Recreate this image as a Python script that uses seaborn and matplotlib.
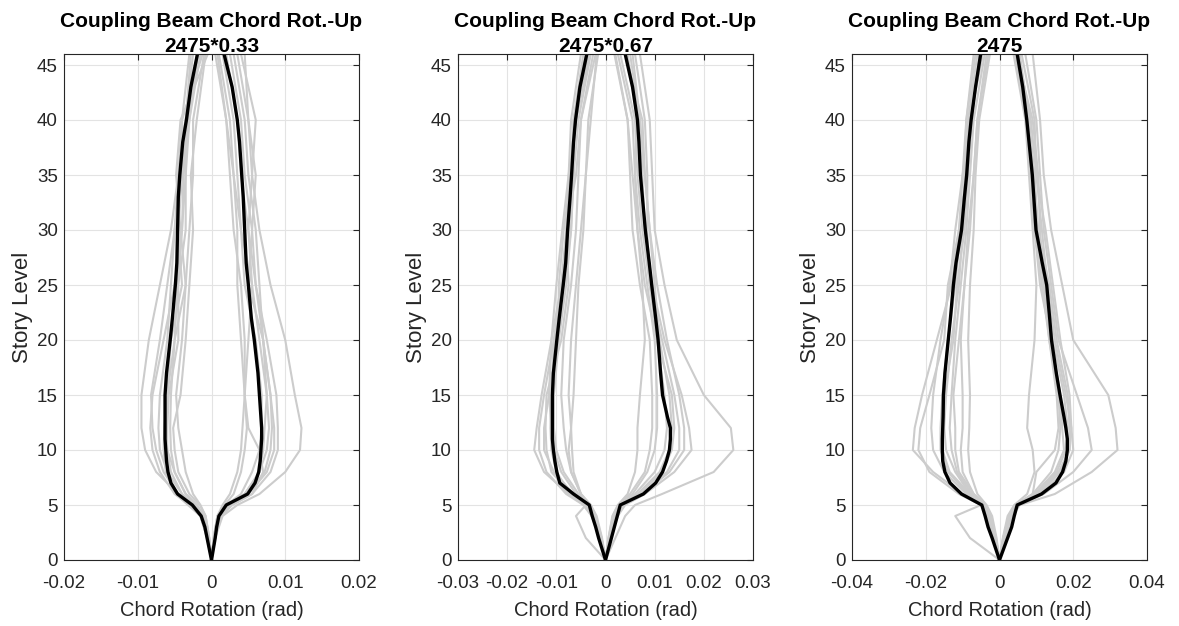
import numpy as np
import pandas as pd
import matplotlib
matplotlib.use("Agg")
import matplotlib.pyplot as plt
import seaborn as sns

# ---------------- data (milli-radians) ----------------
titles = ["Coupling Beam Chord Rot.-Up\n2475*0.33",
          "Coupling Beam Chord Rot.-Up\n2475*0.67",
          "Coupling Beam Chord Rot.-Up\n2475"]
xlims = [0.02, 0.03, 0.04]
xticks = [[-0.02, -0.01, 0, 0.01, 0.02],
          [-0.03, -0.02, -0.01, 0, 0.01, 0.02, 0.03],
          [-0.04, -0.02, 0, 0.02, 0.04]]
xticklabels = [["-0.02", "-0.01", "0", "0.01", "0.02"],
               ["-0.03", "-0.02", "-0.01", "0", "0.01", "0.02", "0.03"],
               ["-0.04", "-0.02", "0", "0.02", "0.04"]]

# story levels of the individual records
levels = [0, 2, 4, 5, 6, 8, 10, 12, 15, 20, 25, 30, 35, 40, 46]
# story levels of the mean curves
mean_levels = [0, 1, 2, 3, 4, 5, 6, 7, 8, 9, 10, 11, 12, 13, 15, 17, 20, 22,
               25, 27, 30, 33, 35, 38, 40, 43, 46]

# Panel 1 (2475*0.33)
p1_neg = [
    [0, -0.5, -1.2, -2.5, -4.5, -7.5, -9.0, -9.5, -9.5, -8.5, -7.0, -5.5, -4.5, -4.0, -3.0],
    [0, -0.6, -1.5, -3.0, -5.0, -7.0, -8.0, -8.3, -8.0, -6.5, -5.0, -4.0, -3.5, -3.0, -2.0],
    [0, -0.5, -1.0, -2.2, -4.0, -6.0, -7.0, -7.2, -7.0, -6.0, -5.5, -5.0, -4.5, -3.5, -2.5],
    [0, -0.6, -1.5, -3.2, -4.8, -6.2, -6.5, -6.4, -6.0, -5.5, -4.0, -4.5, -4.0, -3.2, -1.8],
    [0, -0.4, -1.0, -2.0, -3.5, -5.0, -5.5, -5.6, -5.5, -5.0, -4.6, -4.0, -3.8, -3.0, -1.5],
    [0, -0.5, -1.2, -2.5, -4.0, -5.5, -6.0, -6.0, -5.8, -4.5, -4.5, -3.5, -3.5, -4.0, -1.2],
    [0, -0.3, -0.8, -1.5, -2.5, -3.5, -4.0, -4.5, -4.8, -4.0, -3.5, -3.0, -2.5, -2.5, -1.0],
    [0, -0.4, -1.0, -2.0, -3.5, -5.0, -6.0, -6.2, -6.0, -5.0, -3.5, -4.2, -4.8, -4.2, -0.5],
    [0, -0.5, -1.3, -2.8, -4.5, -6.5, -7.5, -8.0, -8.2, -7.0, -6.0, -5.0, -4.0, -3.5, -2.8],
    [0, -0.3, -0.8, -1.6, -3.0, -4.5, -5.0, -5.2, -4.2, -3.5, -3.0, -2.5, -2.8, -2.0, -0.8],
]
p1_pos = [
    [0, 0.5, 1.5, 3.5, 6.5, 10.0, 12.0, 12.2, 11.3, 10.0, 8.0, 6.5, 5.5, 5.0, 4.5],
    [0, 0.5, 1.2, 2.8, 5.5, 8.0, 9.0, 9.0, 8.8, 7.5, 6.0, 5.0, 5.5, 6.0, 4.0],
    [0, 0.4, 1.0, 2.5, 5.0, 7.5, 8.5, 8.5, 8.0, 7.0, 6.5, 6.0, 5.0, 4.5, 3.0],
    [0, 0.4, 1.0, 2.2, 4.5, 6.5, 7.5, 7.8, 7.5, 6.5, 5.5, 5.0, 4.0, 3.5, 2.0],
    [0, 0.3, 0.8, 2.0, 4.0, 5.5, 6.5, 6.8, 6.8, 6.0, 4.5, 4.0, 3.5, 3.0, 1.5],
    [0, 0.3, 0.8, 1.8, 3.0, 4.0, 4.5, 4.8, 4.5, 4.0, 3.5, 3.5, 3.0, 2.5, 1.0],
    [0, 0.5, 1.2, 2.8, 5.5, 7.0, 6.5, 5.0, 4.5, 5.0, 5.5, 4.0, 3.0, 2.0, 0.5],
    [0, 0.4, 1.0, 2.3, 4.5, 6.5, 7.0, 7.2, 7.5, 7.0, 6.0, 5.5, 6.0, 5.0, 3.5],
    [0, 0.3, 0.8, 1.5, 2.5, 3.5, 4.0, 4.2, 4.5, 4.5, 4.0, 3.0, 2.5, 2.0, 0.8],
    [0, 0.4, 1.1, 2.5, 5.0, 7.2, 8.0, 8.2, 8.0, 7.0, 5.0, 5.5, 4.5, 4.0, 2.5],
]
p1_mean_neg = [0, -0.3, -0.6, -0.9, -1.4, -2.6, -4.6, -5.5, -5.9, -6.1, -6.2, -6.3, -6.3, -6.3,
               -6.3, -6.1, -5.6, -5.3, -4.9, -4.7, -4.6, -4.5, -4.3, -3.9, -3.4, -2.8, -1.9]
p1_mean_pos = [0, 0.25, 0.5, 0.7, 1.0, 2.0, 4.9, 5.9, 6.4, 6.6, 6.7, 6.8, 6.8, 6.7,
               6.5, 6.3, 5.8, 5.4, 5.0, 4.7, 4.5, 4.3, 4.1, 3.8, 3.5, 2.8, 1.7]

# Panel 2 (2475*0.67)
p2_neg = [
    [0, -1.0, -2.5, -4.0, -7.5, -12.5, -14.5, -14.0, -13.0, -11.0, -9.0, -8.0, -7.5, -7.0, -5.0],
    [0, -1.0, -2.8, -4.5, -8.0, -12.0, -13.5, -13.5, -12.5, -10.5, -8.5, -7.0, -6.5, -6.5, -4.0],
    [0, -0.8, -2.2, -3.5, -6.5, -10.5, -12.5, -12.5, -11.5, -9.5, -9.5, -8.5, -7.0, -6.0, -3.5],
    [0, -1.2, -2.8, -4.5, -7.0, -10.0, -11.0, -11.2, -11.0, -10.5, -9.0, -7.5, -7.0, -6.5, -4.5],
    [0, -0.8, -2.0, -3.2, -5.5, -8.5, -10.0, -10.5, -10.5, -9.5, -8.0, -7.0, -6.5, -5.5, -3.0],
    [0, -4.0, -6.0, -4.0, -5.0, -7.0, -8.0, -8.5, -9.0, -8.5, -7.0, -6.0, -5.5, -5.0, -2.5],
    [0, -0.7, -1.8, -3.0, -5.0, -7.0, -7.5, -7.0, -6.5, -6.0, -5.5, -4.5, -4.0, -3.5, -1.5],
    [0, -1.0, -2.5, -4.0, -7.0, -11.0, -12.0, -12.2, -12.0, -9.0, -7.5, -8.0, -6.0, -5.0, -2.0],
    [0, -0.9, -2.3, -3.6, -6.0, -9.0, -10.5, -11.0, -11.5, -11.0, -10.0, -8.8, -7.5, -6.0, -3.2],
    [0, -0.8, -2.0, -3.0, -5.0, -6.5, -6.8, -7.0, -7.5, -7.0, -6.0, -5.0, -4.0, -3.0, -1.8],
]
p2_pos = [
    [0, 2.0, 4.0, 6.0, 11.5, 22.0, 26.0, 25.5, 20.0, 14.5, 12.0, 10.0, 9.5, 9.0, 7.0],
    [0, 1.0, 2.5, 4.0, 8.0, 14.0, 17.5, 17.0, 15.5, 12.0, 9.5, 8.0, 7.5, 7.0, 5.0],
    [0, 1.0, 2.2, 3.5, 7.5, 12.5, 15.0, 15.0, 14.0, 11.5, 9.0, 8.5, 8.5, 8.0, 6.0],
    [0, 0.9, 2.0, 3.2, 6.5, 11.0, 13.0, 13.5, 13.0, 11.0, 10.0, 9.0, 8.0, 7.5, 4.0],
    [0, 0.8, 1.8, 3.0, 6.0, 10.0, 12.0, 12.5, 12.0, 10.5, 9.0, 7.5, 6.5, 6.0, 3.0],
    [0, 0.7, 1.6, 2.8, 5.5, 8.5, 10.0, 10.5, 10.5, 10.0, 8.5, 7.0, 6.0, 5.5, 2.5],
    [0, 0.6, 1.4, 2.5, 4.5, 6.0, 6.5, 6.5, 7.0, 8.0, 7.5, 6.5, 5.5, 4.5, 1.8],
    [0, 0.8, 2.0, 3.3, 7.0, 11.5, 13.5, 14.0, 13.5, 10.5, 8.0, 6.5, 6.0, 6.5, 4.5],
    [0, 0.9, 2.2, 3.6, 7.5, 13.0, 16.0, 16.0, 15.0, 12.5, 10.5, 9.0, 8.0, 7.0, 5.5],
    [0, 0.6, 1.5, 2.6, 5.0, 8.0, 9.0, 9.5, 9.5, 9.0, 7.0, 5.5, 5.0, 4.5, 2.0],
]
p2_mean_neg = [0, -0.7, -1.4, -2.0, -2.7, -3.3, -6.5, -9.3, -9.9, -10.3, -10.6, -10.8, -10.8, -10.8,
               -10.8, -10.6, -9.9, -9.4, -8.6, -8.1, -7.7, -7.2, -6.9, -6.5, -6.1, -5.2, -3.8]
p2_mean_pos = [0, 0.6, 1.2, 1.8, 2.4, 3.0, 7.7, 10.2, 11.6, 12.4, 13.0, 13.2, 13.2, 12.6,
               11.6, 11.2, 10.7, 10.2, 9.4, 8.9, 8.1, 7.5, 7.1, 6.8, 6.5, 5.5, 4.0]

# Panel 3 (2475)
p3_neg = [
    [0, -1.5, -3.5, -5.0, -10.0, -18.0, -23.5, -23.0, -21.0, -17.0, -13.0, -11.0, -10.0, -9.0, -7.0],
    [0, -1.5, -3.3, -5.0, -11.0, -19.0, -22.0, -21.5, -19.0, -15.0, -14.0, -11.0, -9.0, -8.5, -6.0],
    [0, -1.3, -3.0, -4.8, -9.0, -15.0, -18.0, -18.5, -18.0, -16.0, -13.5, -12.0, -10.0, -8.0, -5.0],
    [0, -1.2, -3.0, -4.5, -8.5, -14.0, -16.0, -16.0, -15.5, -14.0, -12.0, -10.5, -9.0, -8.0, -4.5],
    [0, -8.0, -12.0, -5.0, -8.0, -12.0, -14.5, -15.0, -14.5, -13.0, -11.0, -10.0, -9.5, -9.0, -6.5],
    [0, -1.0, -2.6, -4.0, -7.5, -11.5, -13.0, -13.5, -13.0, -12.0, -10.5, -9.0, -8.0, -7.0, -4.0],
    [0, -1.0, -2.4, -3.8, -7.0, -10.0, -10.5, -10.0, -10.0, -10.5, -9.5, -8.5, -7.0, -6.0, -3.5],
    [0, -0.8, -2.0, -3.5, -6.0, -8.0, -8.5, -8.2, -8.0, -8.5, -8.0, -7.0, -6.5, -5.5, -2.6],
    [0, -1.2, -2.8, -4.3, -8.0, -13.5, -15.5, -15.5, -15.0, -12.5, -11.5, -9.5, -8.5, -7.5, -5.5],
    [0, -1.0, -2.5, -4.0, -7.0, -11.0, -12.0, -12.0, -12.5, -11.0, -9.5, -8.0, -7.0, -6.0, -3.0],
]
p3_pos = [
    [0, 1.5, 3.5, 5.5, 15.0, 25.0, 32.0, 31.5, 29.5, 20.0, 17.0, 14.0, 12.0, 11.0, 9.0],
    [0, 1.5, 3.5, 5.0, 12.0, 20.0, 25.0, 24.0, 21.0, 16.0, 14.0, 12.0, 11.0, 10.0, 7.0],
    [0, 1.4, 3.2, 5.0, 11.0, 17.5, 20.0, 19.5, 18.0, 15.0, 13.0, 11.5, 10.0, 9.5, 6.0],
    [0, 1.3, 3.0, 4.8, 10.5, 16.5, 19.0, 19.0, 18.5, 15.5, 13.5, 10.5, 9.5, 8.0, 5.5],
    [0, 1.2, 2.8, 4.5, 10.0, 15.5, 18.0, 18.5, 17.5, 14.5, 12.0, 11.0, 10.5, 9.0, 4.5],
    [0, 1.0, 2.5, 4.2, 9.0, 10.0, 15.0, 16.0, 15.5, 13.5, 11.5, 9.5, 9.0, 7.5, 4.0],
    [0, 0.9, 2.2, 4.0, 7.5, 9.5, 9.0, 7.5, 8.0, 9.5, 10.0, 9.0, 8.0, 7.0, 3.8],
    [0, 1.2, 2.9, 4.6, 10.0, 16.0, 19.0, 19.5, 19.0, 16.5, 14.5, 12.5, 10.0, 8.5, 5.0],
    [0, 1.0, 2.6, 4.3, 9.0, 14.0, 16.0, 16.5, 16.0, 13.5, 12.0, 10.0, 9.0, 8.0, 5.0],
    [0, 1.1, 2.7, 4.4, 9.5, 15.0, 17.5, 17.0, 16.5, 14.0, 11.0, 9.5, 8.5, 7.5, 4.5],
]
p3_mean_neg = [0, -1.0, -2.0, -3.1, -3.9, -4.8, -10.3, -13.4, -14.8, -15.4, -15.5, -15.5, -15.4, -15.3,
               -15.2, -14.8, -13.9, -13.3, -12.5, -11.8, -10.3, -9.5, -8.9, -8.3, -7.7, -6.5, -5.1]
p3_mean_pos = [0, 1.1, 2.2, 3.3, 4.0, 4.8, 11.4, 15.3, 17.1, 18.0, 18.4, 18.4, 18.0, 17.5,
               16.4, 15.4, 14.1, 13.6, 12.8, 11.6, 9.9, 9.3, 8.9, 8.0, 7.4, 6.3, 4.8]

panels = [
    (p1_neg, p1_pos, p1_mean_neg, p1_mean_pos),
    (p2_neg, p2_pos, p2_mean_neg, p2_mean_pos),
    (p3_neg, p3_pos, p3_mean_neg, p3_mean_pos),
]

# ---------------- plotting ----------------
sns.set_theme(style="white")
plt.rcParams["font.family"] = ["Liberation Sans", "DejaVu Sans"]
dark = "#262626"

fig = plt.figure(figsize=(11.79, 6.26), dpi=100)
lefts = [64 / 1179, 458 / 1179, 852 / 1179]
bottom = 1 - 560 / 626
width = 295 / 1179
height = 506 / 626

for i, (negs, poss, mneg, mpos) in enumerate(panels):
    ax = fig.add_axes([lefts[i], bottom, width, height])
    rows = []
    for k, rec in enumerate(negs):
        for s, v in zip(levels, rec):
            rows.append(("n%d" % k, s, v / 1000.0))
    for k, rec in enumerate(poss):
        for s, v in zip(levels, rec):
            rows.append(("p%d" % k, s, v / 1000.0))
    df = pd.DataFrame(rows, columns=["rec", "story", "rot"])
    sns.lineplot(data=df, x="rot", y="story", units="rec", estimator=None,
                 sort=False, color="#cccccc", lw=1.5, ax=ax, legend=False)
    mrows = []
    for s, v in zip(mean_levels, mneg):
        mrows.append(("mn", s, v / 1000.0))
    for s, v in zip(mean_levels, mpos):
        mrows.append(("mp", s, v / 1000.0))
    mdf = pd.DataFrame(mrows, columns=["rec", "story", "rot"])
    sns.lineplot(data=mdf, x="rot", y="story", units="rec", estimator=None,
                 sort=False, color="black", lw=2.4, ax=ax, legend=False)

    ax.set_xlim(-xlims[i], xlims[i])
    ax.set_ylim(0, 46)
    ax.set_xticks(xticks[i])
    ax.set_xticklabels(xticklabels[i])
    ax.set_yticks(range(0, 46, 5))
    ax.grid(True, color="#e3e3e3", lw=0.8)
    ax.set_axisbelow(True)
    for sp in ax.spines.values():
        sp.set_color(dark)
        sp.set_linewidth(0.8)
    ax.tick_params(axis="both", direction="in", length=4, width=0.8,
                   colors=dark, labelsize=13.5, top=True, right=True,
                   labelcolor=dark)
    ax.tick_params(axis="x", pad=11)
    ax.tick_params(axis="y", pad=4.5)
    ax.set_xlabel("Chord Rotation (rad)", fontsize=14.5, color=dark, labelpad=6.5)
    ax.set_ylabel("Story Level", fontsize=16, color=dark, labelpad=3)
    ax.set_title(titles[i], fontsize=15, fontweight="bold", color="black",
                 pad=1.5, linespacing=1.4)

fig.savefig("out.png", dpi=100)
